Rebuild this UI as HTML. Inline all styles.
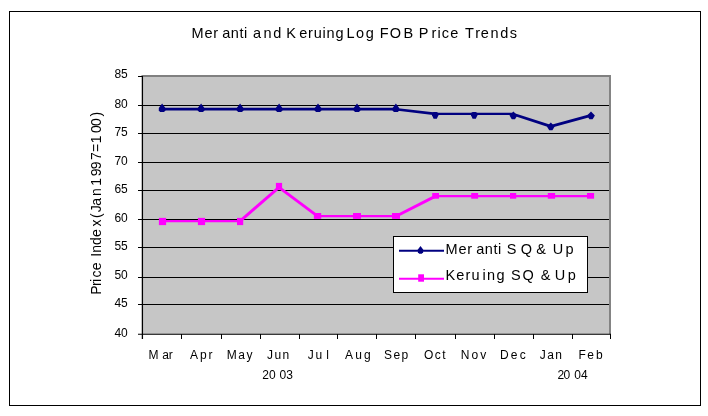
<!DOCTYPE html>
<html lang="en">
<head>
<meta charset="utf-8">
<title>Meranti and Keruing Log FOB Price Trends</title>
<style>
html,body{margin:0;padding:0;background:#fff;}
body{width:708px;height:416px;overflow:hidden;}
svg{display:block;}
text{font-family:"Liberation Sans",Arial,sans-serif;fill:#000;white-space:pre;}
</style>
</head>
<body>
<svg width="708" height="416" viewBox="0 0 708 416">
<rect x="0" y="0" width="708" height="416" fill="#ffffff"/>
<rect x="9.5" y="11.5" width="691" height="394" fill="#ffffff" stroke="#000000" stroke-width="1" shape-rendering="crispEdges"/>
<rect x="142" y="75" width="469" height="259.5" fill="#c6c6c6"/>
<path d="M141.5 76 H610 V334" fill="none" stroke="#808080" stroke-width="1.9"/>
<line x1="142" y1="105.5" x2="609.2" y2="105.5" stroke="#000" stroke-width="1" shape-rendering="crispEdges"/>
<line x1="142" y1="133.5" x2="609.2" y2="133.5" stroke="#000" stroke-width="1" shape-rendering="crispEdges"/>
<line x1="142" y1="162.5" x2="609.2" y2="162.5" stroke="#000" stroke-width="1" shape-rendering="crispEdges"/>
<line x1="142" y1="190.5" x2="609.2" y2="190.5" stroke="#000" stroke-width="1" shape-rendering="crispEdges"/>
<line x1="142" y1="219.5" x2="609.2" y2="219.5" stroke="#000" stroke-width="1" shape-rendering="crispEdges"/>
<line x1="142" y1="247.5" x2="609.2" y2="247.5" stroke="#000" stroke-width="1" shape-rendering="crispEdges"/>
<line x1="142" y1="277.5" x2="609.2" y2="277.5" stroke="#000" stroke-width="1" shape-rendering="crispEdges"/>
<line x1="142" y1="304.5" x2="609.2" y2="304.5" stroke="#000" stroke-width="1" shape-rendering="crispEdges"/>
<line x1="142.4" y1="76" x2="142.4" y2="339" stroke="#000" stroke-width="1.3"/>
<line x1="138" y1="334.3" x2="611" y2="334.3" stroke="#000" stroke-width="1.1"/>
<line x1="138" y1="76.5" x2="143" y2="76.5" stroke="#000" stroke-width="1" shape-rendering="crispEdges"/>
<line x1="138" y1="105.5" x2="143" y2="105.5" stroke="#000" stroke-width="1" shape-rendering="crispEdges"/>
<line x1="138" y1="133.5" x2="143" y2="133.5" stroke="#000" stroke-width="1" shape-rendering="crispEdges"/>
<line x1="138" y1="162.5" x2="143" y2="162.5" stroke="#000" stroke-width="1" shape-rendering="crispEdges"/>
<line x1="138" y1="190.5" x2="143" y2="190.5" stroke="#000" stroke-width="1" shape-rendering="crispEdges"/>
<line x1="138" y1="219.5" x2="143" y2="219.5" stroke="#000" stroke-width="1" shape-rendering="crispEdges"/>
<line x1="138" y1="247.5" x2="143" y2="247.5" stroke="#000" stroke-width="1" shape-rendering="crispEdges"/>
<line x1="138" y1="277.5" x2="143" y2="277.5" stroke="#000" stroke-width="1" shape-rendering="crispEdges"/>
<line x1="138" y1="304.5" x2="143" y2="304.5" stroke="#000" stroke-width="1" shape-rendering="crispEdges"/>
<line x1="181.5" y1="334" x2="181.5" y2="339" stroke="#000" stroke-width="1" shape-rendering="crispEdges"/>
<line x1="221.5" y1="334" x2="221.5" y2="339" stroke="#000" stroke-width="1" shape-rendering="crispEdges"/>
<line x1="260.5" y1="334" x2="260.5" y2="339" stroke="#000" stroke-width="1" shape-rendering="crispEdges"/>
<line x1="299.5" y1="334" x2="299.5" y2="339" stroke="#000" stroke-width="1" shape-rendering="crispEdges"/>
<line x1="337.5" y1="334" x2="337.5" y2="339" stroke="#000" stroke-width="1" shape-rendering="crispEdges"/>
<line x1="376.5" y1="334" x2="376.5" y2="339" stroke="#000" stroke-width="1" shape-rendering="crispEdges"/>
<line x1="415.5" y1="334" x2="415.5" y2="339" stroke="#000" stroke-width="1" shape-rendering="crispEdges"/>
<line x1="455.5" y1="334" x2="455.5" y2="339" stroke="#000" stroke-width="1" shape-rendering="crispEdges"/>
<line x1="494.5" y1="334" x2="494.5" y2="339" stroke="#000" stroke-width="1" shape-rendering="crispEdges"/>
<line x1="533.5" y1="334" x2="533.5" y2="339" stroke="#000" stroke-width="1" shape-rendering="crispEdges"/>
<line x1="572.5" y1="334" x2="572.5" y2="339" stroke="#000" stroke-width="1" shape-rendering="crispEdges"/>
<line x1="610.5" y1="334" x2="610.5" y2="339" stroke="#000" stroke-width="1" shape-rendering="crispEdges"/>
<text font-size="12" x="127.8" y="77.6" text-anchor="end">85</text>
<text font-size="12" x="127.8" y="107.9" text-anchor="end">80</text>
<text font-size="12" x="127.8" y="135.9" text-anchor="end">75</text>
<text font-size="12" x="127.8" y="165.0" text-anchor="end">70</text>
<text font-size="12" x="127.8" y="193.3" text-anchor="end">65</text>
<text font-size="12" x="127.8" y="222.1" text-anchor="end">60</text>
<text font-size="12" x="127.8" y="250.4" text-anchor="end">55</text>
<text font-size="12" x="127.8" y="278.8" text-anchor="end">50</text>
<text font-size="12" x="127.8" y="306.7" text-anchor="end">45</text>
<text font-size="12" x="127.8" y="336.7" text-anchor="end">40</text>
<line x1="162.1" y1="109.05" x2="395.9" y2="109.05" stroke="#000080" stroke-width="2.7"/>
<polyline points="395.9,109.3 435.2,113.9" fill="none" stroke="#000080" stroke-width="2.6" stroke-linejoin="round"/>
<polyline points="435.2,113.9 474.2,113.9 513.4,113.9" fill="none" stroke="#000080" stroke-width="2.2" stroke-linejoin="round"/>
<polyline points="513.4,114.2 550.8,126.4 591.0,115.4" fill="none" stroke="#000080" stroke-width="2.7" stroke-linejoin="round"/>
<path d="M162.1 103.4 L165.4 108.0 L165.4 110.4 L164.1 111.9 L160.1 111.9 L158.8 110.4 L158.8 108.0 Z" fill="#000080"/>
<path d="M201.1 103.4 L204.4 108.0 L204.4 110.4 L203.1 111.9 L199.1 111.9 L197.8 110.4 L197.8 108.0 Z" fill="#000080"/>
<path d="M240.1 103.4 L243.4 108.0 L243.4 110.4 L242.1 111.9 L238.1 111.9 L236.8 110.4 L236.8 108.0 Z" fill="#000080"/>
<path d="M279.1 103.4 L282.4 108.0 L282.4 110.4 L281.1 111.9 L277.1 111.9 L275.8 110.4 L275.8 108.0 Z" fill="#000080"/>
<path d="M318.0 103.4 L321.3 108.0 L321.3 110.4 L320.0 111.9 L316.0 111.9 L314.7 110.4 L314.7 108.0 Z" fill="#000080"/>
<path d="M357.0 103.4 L360.3 108.0 L360.3 110.4 L359.0 111.9 L355.0 111.9 L353.7 110.4 L353.7 108.0 Z" fill="#000080"/>
<path d="M395.9 103.4 L399.2 108.0 L399.2 110.4 L397.9 111.9 L393.9 111.9 L392.6 110.4 L392.6 108.0 Z" fill="#000080"/>
<path d="M433.7 111.9 L436.7 111.9 L438.4 113.0 L438.4 115.2 L436.8 118.8 L433.6 118.8 L432.0 115.2 L432.0 113.0 Z" fill="#000080"/>
<path d="M472.7 111.9 L475.7 111.9 L477.4 113.0 L477.4 115.2 L475.8 118.8 L472.6 118.8 L471.0 115.2 L471.0 113.0 Z" fill="#000080"/>
<path d="M513.4 111.4 L517.3 115.4 L515.0 119.2 L511.8 119.2 L509.5 115.4 Z" fill="#000080"/>
<path d="M550.8 122.4 L554.7 126.4 L552.4 130.2 L549.2 130.2 L546.9 126.4 Z" fill="#000080"/>
<path d="M591.0 111.4 L594.9 115.4 L592.6 119.2 L589.4 119.2 L587.1 115.4 Z" fill="#000080"/>
<polyline points="162.5,221.1 201.5,221.1" fill="none" stroke="#ff00ff" stroke-width="2.2" stroke-linejoin="round"/>
<polyline points="201.5,221.1 240.1,221.1" fill="none" stroke="#ff00ff" stroke-width="2.2" stroke-linejoin="round"/>
<polyline points="240.1,221.1 279.0,187.3" fill="none" stroke="#ff00ff" stroke-width="2.9" stroke-linejoin="round"/>
<polyline points="279.0,187.3 317.5,216.2" fill="none" stroke="#ff00ff" stroke-width="2.9" stroke-linejoin="round"/>
<polyline points="317.5,216.2 357.0,216.2" fill="none" stroke="#ff00ff" stroke-width="2.2" stroke-linejoin="round"/>
<polyline points="357.0,216.2 396.0,216.2" fill="none" stroke="#ff00ff" stroke-width="2.2" stroke-linejoin="round"/>
<polyline points="396.0,216.2 435.6,196.1" fill="none" stroke="#ff00ff" stroke-width="2.9" stroke-linejoin="round"/>
<polyline points="435.6,196.1 474.7,196.1" fill="none" stroke="#ff00ff" stroke-width="2.2" stroke-linejoin="round"/>
<polyline points="474.7,196.1 513.1,196.1" fill="none" stroke="#ff00ff" stroke-width="2.2" stroke-linejoin="round"/>
<polyline points="513.1,196.1 551.4,196.1" fill="none" stroke="#ff00ff" stroke-width="2.2" stroke-linejoin="round"/>
<polyline points="551.4,196.1 590.5,196.1" fill="none" stroke="#ff00ff" stroke-width="2.2" stroke-linejoin="round"/>
<rect x="158.9" y="217.9" width="7.2" height="7.2" fill="#ff00ff"/>
<rect x="197.9" y="217.9" width="7.2" height="7.2" fill="#ff00ff"/>
<rect x="237.0" y="217.9" width="6.2" height="7.2" fill="#ff00ff"/>
<rect x="275.9" y="182.9" width="6.2" height="6.7" fill="#ff00ff"/>
<rect x="313.9" y="213.0" width="7.3" height="5.9" fill="#ff00ff"/>
<rect x="353.0" y="213.0" width="8.0" height="5.9" fill="#ff00ff"/>
<rect x="392.0" y="213.0" width="8.0" height="5.9" fill="#ff00ff"/>
<rect x="432.2" y="193.0" width="6.8" height="5.7" fill="#ff00ff"/>
<rect x="471.2" y="193.0" width="6.9" height="5.7" fill="#ff00ff"/>
<rect x="510.0" y="193.0" width="6.2" height="5.7" fill="#ff00ff"/>
<rect x="547.8" y="193.0" width="7.3" height="5.7" fill="#ff00ff"/>
<rect x="587.0" y="193.0" width="7.1" height="5.7" fill="#ff00ff"/>
<rect x="393.5" y="236.5" width="194" height="56" fill="#fff" stroke="#000" stroke-width="1" shape-rendering="crispEdges"/>
<line x1="399" y1="250.8" x2="444" y2="250.8" stroke="#000080" stroke-width="2"/>
<path d="M420.5 246 L423.1 249.5 L423.1 252.3 L421.8 253.8 L419.2 253.8 L417.9 252.3 L417.9 249.5 Z" fill="#000080"/>
<line x1="399" y1="278.7" x2="444" y2="278.7" stroke="#ff00ff" stroke-width="2"/>
<rect x="418.2" y="274.3" width="5.8" height="7.4" fill="#ff00ff"/>
<text font-size="14.5" y="37.8" x="191.50 204.38 213.24 222.20 230.80 239.40 243.96 247.68 252.95 263.50 273.16 281.73 286.30 299.20 308.06 313.69 322.56 326.58 335.44 344.01 346.40 356.11 365.83 374.39 379.80 389.76 403.60 413.77 418.65 431.60 437.53 441.85 450.20 458.76 464.90 475.16 480.85 490.60 500.21 509.83">Meranti and Keruing Log FOB Price Trends</text>
<text font-size="14.5" y="253.9" x="445.50 458.38 467.24 476.20 484.80 493.40 497.96 501.68 506.80 520.70 532.48 536.20 546.37 552.80 565.60">Meranti SQ &amp; Up</text>
<text font-size="14.5" y="280.4" x="445.50 456.34 465.57 471.56 482.60 487.07 496.39 504.95 510.90 522.57 534.35 540.65 550.82 554.80 567.77">Keruing SQ &amp; Up</text>
<text font-size="12" y="359" x="148.45 162.30 168.77">Mar</text>
<text font-size="12" y="359" x="189.90 199.90 208.58">Apr</text>
<text font-size="12" y="359" x="226.80 238.30 246.47">May</text>
<text font-size="12" y="359" x="267.00 274.45 282.57">Jun</text>
<text font-size="12" y="359" x="307.80 315.50 326.25">Jul</text>
<text font-size="12" y="359" x="345.10 355.15 363.88">Aug</text>
<text font-size="12" y="359" x="384.10 393.45 401.48">Sep</text>
<text font-size="12" y="359" x="423.90 434.68 442.13">Oct</text>
<text font-size="12" y="359" x="460.80 471.47 480.14">Nov</text>
<text font-size="12" y="359" x="500.00 510.87 519.74">Dec</text>
<text font-size="12" y="359" x="539.80 547.20 555.27">Jan</text>
<text font-size="12" y="359" x="578.60 587.13 596.05">Feb</text>
<text font-size="12" y="379.0" x="262.20 269.07 279.60 286.27">2003</text>
<text font-size="12" y="379.0" x="557.50 563.47 574.20 581.07">2004</text>
<text font-size="14" transform="translate(101.0 0) rotate(-90)" y="0" x="-294.80 -286.11 -282.10 -277.50 -270.20 -261.91 -256.80 -252.81 -244.92 -237.04 -226.60 -219.10 -218.10 -212.34 -205.70 -195.90 -187.61 -185.65 -176.15 -169.26 -159.90 -152.10 -143.35 -133.10 -126.01 -116.55">Price Index (Jan 1997=100)</text>
</svg>
</body>
</html>
